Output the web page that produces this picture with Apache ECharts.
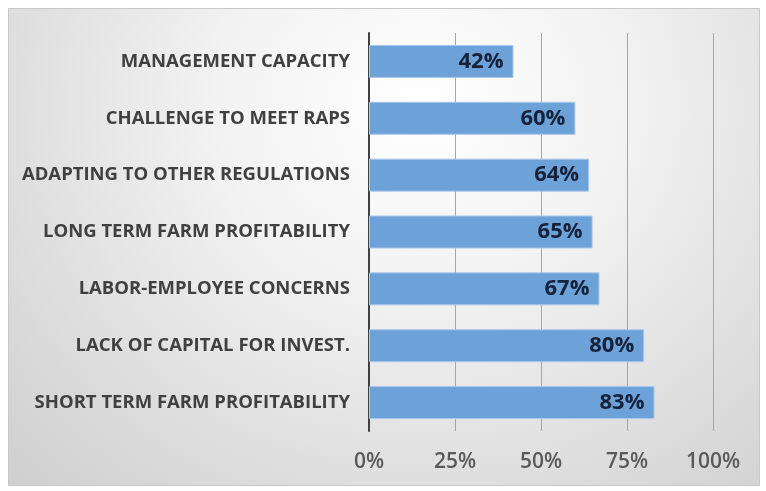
<!DOCTYPE html>
<html>
<head>
<meta charset="utf-8">
<script src="https://cdn.jsdelivr.net/npm/echarts@6/dist/echarts.min.js"></script>
<style>
    html, body {
        margin: 0;
        padding: 0;
        background: #ffffff;
    }
    .frame {
        position: absolute;
        left: 8px;
        top: 8px;
        width: 750px;
        height: 476px;
        border: 1px solid #c8c8c8;
        background: radial-gradient(ellipse at 55% 20%, #ffffff 0%, #f2f2f2 35%, #d9d9d9 80%, #cfcfcf 100%);
    }
    #chart {
        position: absolute;
        left: 0;
        top: 0;
        width: 766px;
        height: 491px;
    }
</style>
</head>
<body>
<div class="frame"></div>
<div id="chart"></div>
<script>
// categories top -> bottom as shown
const categories = [
    "MANAGEMENT CAPACITY",
    "CHALLENGE TO MEET RAPS",
    "ADAPTING TO OTHER REGULATIONS",
    "LONG TERM FARM PROFITABILITY",
    "LABOR-EMPLOYEE CONCERNS",
    "LACK OF CAPITAL FOR INVEST.",
    "SHORT TERM FARM PROFITABILITY"
];
const values = [42, 60, 64, 65, 67, 80, 83];
const tickValues = [0, 25, 50, 75, 100];

const chart = echarts.init(document.getElementById("chart"), null, { renderer: "canvas" });

const options = {
    backgroundColor: "transparent",
    grid: {
        left: 369,
        right: 53,
        top: 33,
        bottom: 60,
        containLabel: false
    },
    xAxis: {
        type: "value",
        min: tickValues[0],
        max: tickValues[tickValues.length - 1],
        interval: 25,
        axisLine: { show: false },
        axisTick: { show: false },
        splitLine: {
            show: true,
            lineStyle: { color: "#a6a6a6", width: 1 }
        },
        axisLabel: {
            formatter: "{value}%",
            margin: 21,
            fontFamily: "Open Sans",
            fontWeight: 600,
            fontSize: 21,
            color: "#595959"
        }
    },
    yAxis: {
        type: "category",
        inverse: true,
        data: categories,
        axisLine: {
            show: true,
            lineStyle: { color: "#404040", width: 2 }
        },
        axisTick: { show: false },
        axisLabel: {
            margin: 19,
            fontFamily: "Open Sans",
            fontWeight: "bold",
            fontSize: 18.5,
            color: "#404040"
        }
    },
    series: [
        {
            type: "bar",
            data: values,
            barWidth: "58%",
            itemStyle: {
                color: "#6ca2d8",
                borderColor: "#a9c8ea",
                borderWidth: 1
            },
            label: {
                show: true,
                position: "insideRight",
                distance: 10,
                formatter: "{c}%",
                fontFamily: "Open Sans",
                fontWeight: "bold",
                fontSize: 22,
                color: "#16213a"
            }
        }
    ]
};

chart.setOption(options);
</script>
</body>
</html>
